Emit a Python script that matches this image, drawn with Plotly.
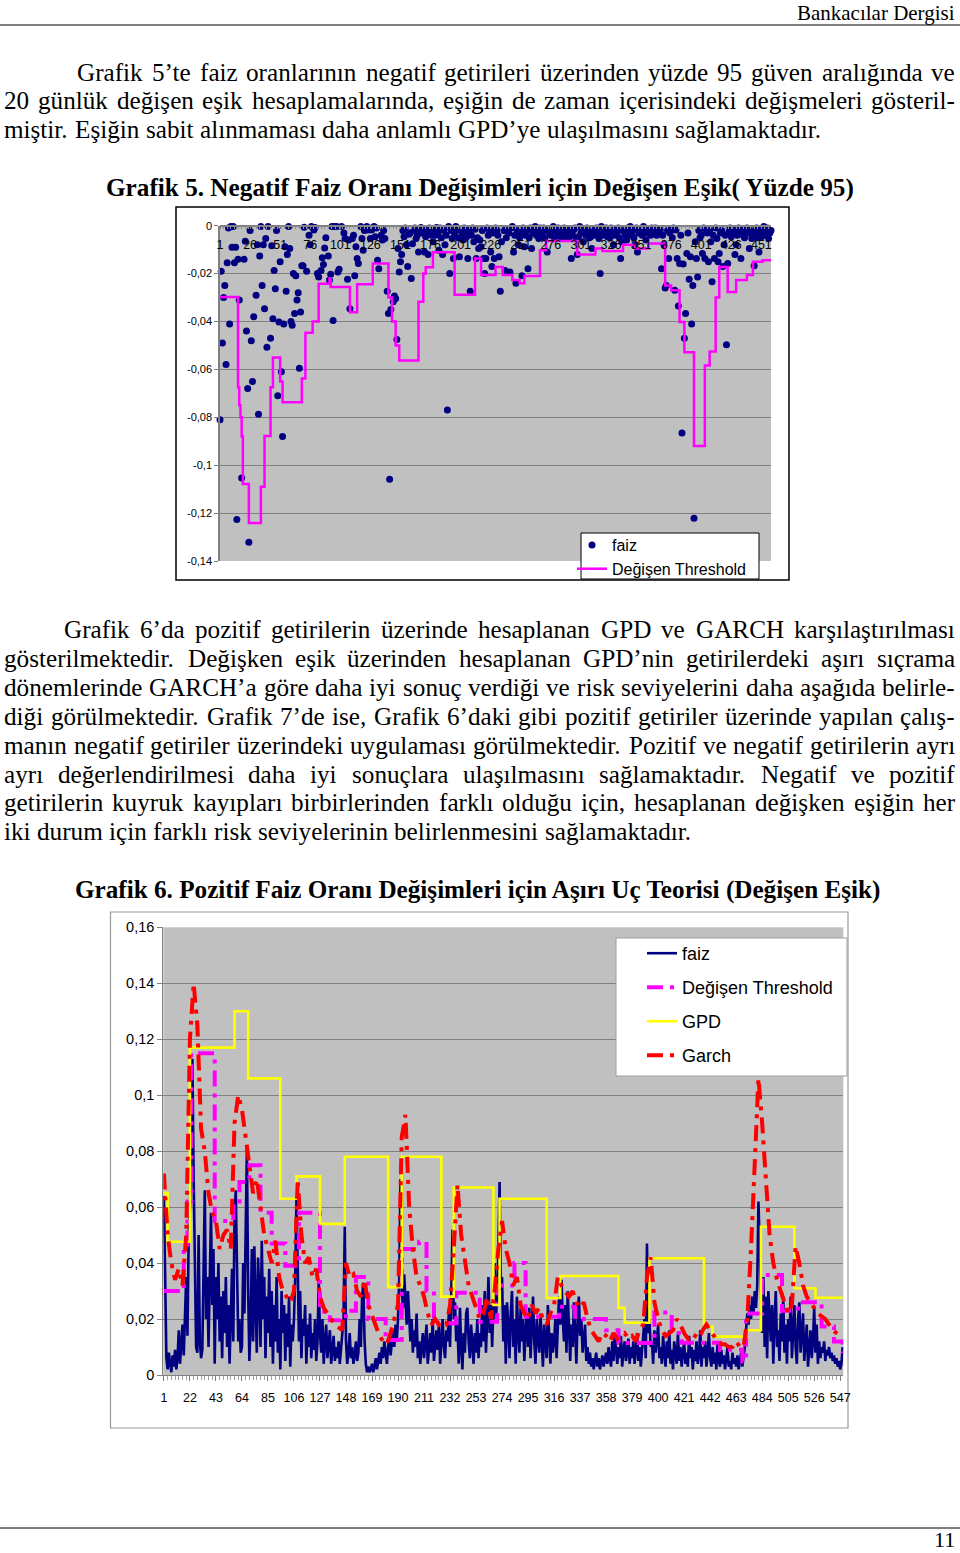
import plotly.graph_objects as go

W, H = 960, 1553
_ = None

# ---------------- Chart 1 data (Grafik 5) ----------------
faiz_neg = [
    -0.081, -0.019, -0.049, -0.030, -0.025, -0.058, -0.0155, -0.001, -0.041, -0.0003,
    -0.009, -0.0003, -0.0155, -0.009, -0.1227, -0.014, -0.031, _, -0.1053, _,
    -0.014, -0.0065, -0.044, -0.068, -0.1322, -0.002, -0.048, -0.065, -0.038, _,
    -0.029, -0.008, -0.0787, -0.0127, -0.0003, -0.025, -0.008, -0.0347, -0.0053, -0.0507,
    -0.0003, _, -0.047, -0.0084, -0.0388, -0.0187, -0.0263, -0.002, -0.071, -0.0402,
    -0.015, -0.061, -0.088, -0.041, -0.0088, -0.0274, -0.012, -0.0003, -0.0095, -0.040,
    -0.0416, -0.020, -0.0367, -0.0209, -0.031, -0.028, -0.0595, -0.036, -0.0167, -0.0167,
    -0.0006, _, -0.019, _, -0.004, -0.008, -0.0003, _, -0.0018, -0.0008,
    _, -0.020, -0.0214, _, -0.0187, -0.0134, -0.0162, -0.0093, -0.005, _,
    -0.0126, -0.0227, -0.0203, -0.0003, -0.0396, -0.0003, _, -0.0003, -0.0193, -0.0182,
    _, -0.0003, _, -0.003, -0.0053, _, -0.0224, -0.006, -0.0347, _,
    -0.0053, -0.004, -0.0209, -0.0088, -0.0137, -0.0158, _, -0.0003, -0.0053, -0.0102,
    -0.002, _, -0.0003, -0.0018, -0.001, -0.0053, -0.0018, _, -0.0003, -0.0046,
    -0.001, -0.0144, -0.018, _, -0.004, -0.006, -0.002, -0.0053, _, -0.0274,
    -0.0367, -0.1059, -0.035, _, -0.0318, -0.0294, -0.0304, -0.0475, -0.0095, -0.0193,
    -0.015, -0.012, -0.002, -0.0046, -0.001, -0.008, -0.017, -0.0036, -0.003, -0.022,
    -0.0075, -0.002, -0.001, -0.0053, -0.004, -0.011, -0.0018, -0.0008, -0.003, -0.0015,
    -0.011, -0.0046, -0.003, -0.012, -0.001, -0.0025, -0.004, -0.0067, -0.002, -0.004,
    -0.0008, -0.003, -0.0102, -0.001, -0.005, -0.012, -0.002, -0.008, -0.004, -0.077,
    -0.0003, -0.020, -0.002, -0.0053, -0.0137, -0.003, -0.0003, -0.001, -0.005, -0.013,
    -0.002, -0.0046, -0.006, -0.001, -0.003, -0.0046, -0.0137, -0.002, -0.0274, -0.004,
    -0.001, -0.0067, -0.0015, -0.0137, -0.005, -0.0095, -0.006, -0.0088, -0.002, -0.0137,
    -0.020, -0.0137, -0.001, -0.004, -0.002, -0.011, -0.017, -0.003, -0.0137, -0.001,
    -0.0018, -0.004, -0.013, -0.0274, -0.0067, _, -0.002, -0.0187, -0.005, -0.0018,
    -0.003, -0.0193, -0.001, -0.0003, -0.011, -0.004, -0.024, -0.002, -0.008, -0.005,
    -0.003, -0.0209, -0.001, -0.0088, -0.004, -0.002, -0.018, -0.005, -0.001, -0.0095,
    -0.003, -0.0015, -0.0003, -0.004, -0.002, -0.0053, -0.001, -0.004, -0.003, -0.001,
    -0.005, -0.002, -0.011, -0.0018, -0.003, -0.004, -0.001, -0.0003, -0.005, -0.002,
    -0.0025, -0.001, -0.004, -0.0046, -0.002, -0.005, -0.001, -0.003, -0.0015, -0.003,
    -0.0053, -0.002, -0.0137, -0.004, -0.0018, -0.001, -0.005, -0.012, -0.0046, -0.0003,
    -0.003, -0.0015, -0.0067, -0.002, -0.004, -0.001, -0.003, -0.005, -0.0046, -0.0095,
    -0.002, -0.004, -0.0018, -0.001, -0.003, -0.0053, -0.020, -0.0003, -0.004, -0.002,
    -0.0025, -0.001, -0.0046, -0.003, -0.005, -0.001, -0.002, -0.008, -0.004, -0.0015,
    -0.003, -0.001, -0.005, -0.0137, -0.0067, -0.002, -0.0025, -0.004, -0.006, -0.001,
    -0.003, -0.0003, -0.004, -0.002, -0.005, -0.008, -0.001, -0.011, -0.003, -0.003,
    -0.002, -0.004, -0.0003, -0.001, -0.006, -0.003, -0.0018, -0.002, -0.004, -0.001,
    -0.003, -0.0025, -0.001, -0.004, -0.002, -0.003, -0.0018, -0.018, -0.004, -0.008,
    -0.026, -0.025, -0.002, -0.0137, -0.003, -0.0018, -0.005, -0.001, -0.027, -0.0018,
    -0.0137, -0.0335, -0.0158, -0.004, -0.0866, -0.016, -0.047, -0.0367, -0.0116, -0.003,
    -0.0224, -0.013, -0.041, -0.025, -0.1222, -0.0067, -0.0137, -0.0214, -0.002, -0.005,
    -0.004, -0.0116, -0.001, -0.0137, -0.0025, -0.003, -0.015, -0.002, -0.0067, -0.0234,
    -0.004, -0.0137, -0.001, -0.0053, -0.015, -0.0116, -0.003, -0.002, -0.017, -0.008,
    -0.004, -0.0497, -0.0158, -0.0025, -0.001, -0.0046, -0.003, -0.002, -0.012, -0.008,
    -0.004, -0.001, -0.003, -0.0137, -0.002, -0.004, -0.005, -0.0018, -0.001, -0.003,
    -0.0095, -0.002, -0.0053, -0.004, -0.0167, -0.003, -0.001, -0.005, -0.011, -0.002,
    -0.0046, -0.003, -0.0003, -0.004, -0.0025, -0.001, -0.0053, -0.003, -0.002,
]
days1 = list(range(1, len(faiz_neg) + 1))

thr1_day = [1, 16, 17, 18, 19, 20, 25, 35, 38, 43,
            45, 51, 53, 69, 72, 78, 83, 92, 93, 109,
            115, 128, 141, 144, 147, 150, 166, 170, 172, 178,
            196, 213, 218, 230, 236, 244, 250, 254, 267, 272,
            298, 313, 319, 336, 346, 357, 371, 376, 383, 387,
            395, 404, 408, 413, 416, 423, 430, 439, 444, 452, 459]
thr1_val = [-0.0298, -0.0675, -0.075, -0.080, -0.088, -0.1078, -0.1241, -0.109, -0.0878, -0.0675,
            -0.055, -0.065, -0.0737, -0.0638, -0.0447, -0.040, -0.0242, -0.022, -0.0256, -0.0361,
            -0.0244, -0.0158, -0.030, -0.040, -0.050, -0.0563, -0.0318, -0.020, -0.0173, -0.0111,
            -0.0288, -0.0137, -0.0206, -0.0172, -0.0206, -0.0227, -0.024, -0.021, -0.0102, -0.0064,
            -0.012, -0.0095, -0.0106, -0.008, -0.0095, -0.0074, -0.025, -0.027, -0.0402, -0.0528,
            -0.092, -0.0584, -0.0525, -0.030, -0.0172, -0.0277, -0.0227, -0.0206, -0.0151, -0.0144, -0.0144]

c1_xticks = list(range(1, 452, 25))
c1_yticks = [0, -0.02, -0.04, -0.06, -0.08, -0.1, -0.12, -0.14]
c1_yticktext = ["0", "-0,02", "-0,04", "-0,06", "-0,08", "-0,1", "-0,12", "-0,14"]

# ---------------- Chart 2 data (Grafik 6) ----------------
faiz_pos = [
    0.064, 0.028, 0.006, 0.002, 0.008, 0.004, 0.001, 0.007, 0.003, 0.009, 0.002, 0.006, 0.016, 0.004, 0.012, 0.018, 0.007, 0.022, 0.035, 0.014, 0.05,
    0.06, 0.095, 0.113, 0.07, 0.03, 0.01, 0.008, 0.05, 0.012, 0.006, 0.009, 0.04, 0.066, 0.02, 0.035, 0.01, 0.04, 0.058, 0.025, 0.045, 0.004,
    0.035, 0.02, 0.04, 0.012, 0.028, 0.006, 0.03, 0.015, 0.035, 0.01, 0.025, 0.004, 0.02, 0.038, 0.012, 0.058, 0.066, 0.03, 0.012, 0.02, 0.008,
    0.01, 0.04, 0.022, 0.062, 0.081, 0.03, 0.005, 0.018, 0.045, 0.012, 0.046, 0.025, 0.008, 0.042, 0.03, 0.01, 0.048, 0.02, 0.035, 0.006, 0.028,
    0.015, 0.038, 0.01, 0.03, 0.004, 0.025, 0.012, 0.035, 0.008, 0.02, 0.002, 0.03, 0.015, 0.025, 0.005, 0.022, 0.01, 0.028, 0.003, 0.018, 0.012,
    0.02, 0.035, 0.063, 0.04, 0.012, 0.03, 0.006, 0.02, 0.014, 0.025, 0.004, 0.018, 0.01, 0.022, 0.006, 0.015, 0.009, 0.02, 0.005, 0.012, 0.034,
    0.015, 0.008, 0.02, 0.004, 0.012, 0.018, 0.006, 0.01, 0.016, 0.004, 0.008, 0.014, 0.005, 0.01, 0.006, 0.012, 0.004, 0.009, 0.015, 0.02, 0.053,
    0.012, 0.004, 0.008, 0.015, 0.006, 0.01, 0.004, 0.007, 0.012, 0.005, 0.008, 0.02, 0.01, 0.028, 0.033, 0.012, 0.004, 0.001, 0.003, 0.001, 0.002,
    0.004, 0.001, 0.003, 0.006, 0.002, 0.005, 0.008, 0.004, 0.01, 0.006, 0.012, 0.008, 0.004, 0.01, 0.014, 0.007, 0.012, 0.016, 0.01, 0.018, 0.012,
    0.02, 0.035, 0.07, 0.03, 0.024, 0.036, 0.028, 0.018, 0.03, 0.022, 0.012, 0.02, 0.008, 0.016, 0.01, 0.022, 0.006, 0.012, 0.004, 0.01, 0.015,
    0.006, 0.012, 0.018, 0.004, 0.01, 0.015, 0.008, 0.02, 0.005, 0.012, 0.016, 0.009, 0.018, 0.004, 0.014, 0.02, 0.01, 0.006, 0.016, 0.012, 0.022,
    0.01, 0.03, 0.052, 0.02, 0.026, 0.012, 0.018, 0.004, 0.024, 0.01, 0.002, 0.015, 0.008, 0.022, 0.024, 0.012, 0.006, 0.018, 0.01, 0.004, 0.015,
    0.008, 0.02, 0.006, 0.015, 0.01, 0.025, 0.012, 0.03, 0.008, 0.02, 0.035, 0.015, 0.025, 0.01, 0.03, 0.04, 0.02, 0.028, 0.045, 0.069, 0.03,
    0.035, 0.012, 0.025, 0.004, 0.026, 0.018, 0.006, 0.022, 0.03, 0.01, 0.02, 0.004, 0.028, 0.015, 0.008, 0.024, 0.012, 0.02, 0.005, 0.016, 0.022,
    0.01, 0.024, 0.006, 0.018, 0.028, 0.012, 0.004, 0.02, 0.015, 0.008, 0.022, 0.01, 0.003, 0.018, 0.012, 0.006, 0.025, 0.01, 0.004, 0.015, 0.008,
    0.012, 0.02, 0.006, 0.015, 0.028, 0.018, 0.034, 0.02, 0.012, 0.025, 0.008, 0.03, 0.015, 0.005, 0.018, 0.01, 0.026, 0.012, 0.004, 0.02, 0.028,
    0.014, 0.02, 0.008, 0.012, 0.018, 0.005, 0.01, 0.004, 0.008, 0.003, 0.006, 0.002, 0.005, 0.008, 0.003, 0.006, 0.002, 0.004, 0.007, 0.003, 0.005,
    0.008, 0.004, 0.01, 0.006, 0.003, 0.012, 0.005, 0.015, 0.008, 0.004, 0.01, 0.006, 0.014, 0.003, 0.009, 0.012, 0.005, 0.008, 0.013, 0.004, 0.01,
    0.006, 0.012, 0.004, 0.009, 0.015, 0.005, 0.01, 0.003, 0.008, 0.012, 0.02, 0.006, 0.047, 0.015, 0.02, 0.01, 0.012, 0.004, 0.016, 0.008, 0.012,
    0.018, 0.006, 0.01, 0.004, 0.014, 0.008, 0.003, 0.012, 0.006, 0.016, 0.004, 0.009, 0.002, 0.012, 0.007, 0.004, 0.015, 0.005, 0.01, 0.003, 0.008,
    0.012, 0.004, 0.008, 0.003, 0.014, 0.006, 0.01, 0.002, 0.009, 0.005, 0.012, 0.004, 0.007, 0.016, 0.003, 0.01, 0.006, 0.012, 0.003, 0.008, 0.015,
    0.006, 0.003, 0.01, 0.004, 0.008, 0.002, 0.012, 0.005, 0.003, 0.009, 0.004, 0.007, 0.002, 0.006, 0.01, 0.003, 0.005, 0.002, 0.008, 0.004, 0.006,
    0.003, 0.007, 0.002, 0.005, 0.008, 0.003, 0.006, 0.01, 0.016, 0.022, 0.018, 0.025, 0.02, 0.028, 0.022, 0.03, 0.024, 0.032, 0.062, 0.045, 0.03,
    0.015, 0.035, 0.01, 0.028, 0.006, 0.03, 0.018, 0.012, 0.025, 0.004, 0.02, 0.03, 0.01, 0.016, 0.005, 0.022, 0.012, 0.028, 0.008, 0.018, 0.004,
    0.02, 0.012, 0.028, 0.006, 0.018, 0.025, 0.01, 0.004, 0.02, 0.026, 0.008, 0.015, 0.022, 0.005, 0.012, 0.018, 0.003, 0.01, 0.016, 0.006, 0.012,
    0.024, 0.008, 0.018, 0.004, 0.012, 0.006, 0.01, 0.008, 0.012, 0.005, 0.009, 0.007, 0.01, 0.006, 0.008, 0.005, 0.007, 0.004, 0.006, 0.003, 0.005, 0.002, 0.004, 0.01,
]
days2 = list(range(1, len(faiz_pos) + 1))

garch_day = list(range(1, 548, 3))
garch_val = [
    0.072, 0.05, 0.04, 0.034, 0.038, 0.032, 0.05,
    0.12, 0.14, 0.125, 0.088, 0.08, 0.065, 0.058,
    0.055, 0.045, 0.05, 0.052, 0.045, 0.09, 0.1,
    0.095, 0.085, 0.075, 0.065, 0.07, 0.06, 0.05,
    0.045, 0.04, 0.048, 0.035, 0.03, 0.028, 0.026,
    0.03, 0.07, 0.05, 0.04, 0.042, 0.035, 0.038,
    0.028, 0.024, 0.022, 0.02, 0.018, 0.017, 0.016,
    0.04, 0.035, 0.036, 0.03, 0.028, 0.034, 0.025,
    0.021, 0.018, 0.014, 0.012, 0.011, 0.015, 0.02,
    0.025, 0.085, 0.093, 0.06, 0.045, 0.035, 0.032,
    0.028, 0.022, 0.018, 0.02, 0.018, 0.019, 0.018,
    0.025, 0.045, 0.068, 0.05, 0.04, 0.032, 0.028,
    0.024, 0.02, 0.022, 0.028, 0.02, 0.03, 0.045,
    0.055, 0.045, 0.04, 0.032, 0.035, 0.025, 0.022,
    0.02, 0.025, 0.022, 0.024, 0.02, 0.018, 0.022,
    0.025, 0.035, 0.032, 0.03, 0.028, 0.03, 0.026,
    0.024, 0.026, 0.02, 0.016, 0.014, 0.012, 0.015,
    0.014, 0.012, 0.015, 0.013, 0.014, 0.015, 0.013,
    0.014, 0.012, 0.016, 0.018, 0.035, 0.042, 0.026,
    0.02, 0.016, 0.014, 0.015, 0.016, 0.02, 0.018,
    0.015, 0.013, 0.012, 0.014, 0.013, 0.016, 0.018,
    0.016, 0.014, 0.012, 0.011, 0.011, 0.01, 0.01,
    0.012, 0.01, 0.01, 0.02, 0.045, 0.08, 0.106,
    0.09, 0.07, 0.05, 0.04, 0.034, 0.03, 0.026,
    0.022, 0.025, 0.046, 0.04, 0.032, 0.028, 0.026,
    0.024, 0.022, 0.021, 0.02, 0.018, 0.016, 0.015, 0.014,
]

thr2_day = [1, 17, 20, 23, 42, 57, 62, 70, 79, 88,
            99, 110, 127, 135, 148, 156, 166, 180, 193, 207,
            213, 219, 237, 256, 270, 284, 293, 320, 333, 347,
            358, 368, 397, 411, 419, 437, 450, 468, 471, 484,
            500, 513, 532, 542, 549]
thr2_val = [0.030, 0.045, 0.062, 0.115, 0.055, 0.062, 0.069, 0.075, 0.058, 0.047,
            0.039, 0.058, 0.0226, 0.0196, 0.023, 0.035, 0.02, 0.0125, 0.045, 0.0476,
            0.03, 0.0185, 0.0294, 0.019, 0.032, 0.04, 0.0208, 0.0244, 0.02, 0.02,
            0.016, 0.0114, 0.0223, 0.015, 0.0115, 0.0115, 0.009, 0.0048, 0.022, 0.0357,
            0.023, 0.026, 0.0173, 0.012, 0.0078]

gpd_day = [1, 4, 22, 58, 69, 95, 108, 127, 147, 182, 193, 225, 235, 267,
           272, 310, 321, 368, 373, 393, 437, 444, 471, 483, 510, 527, 549]
gpd_val = [0.065, 0.0476, 0.117, 0.130, 0.106, 0.063, 0.071, 0.054, 0.078, 0.0314, 0.078, 0.028, 0.067, 0.025,
           0.063, 0.0275, 0.0354, 0.024, 0.0187, 0.0417, 0.0173, 0.0137, 0.016, 0.053, 0.031, 0.0276, 0.0276]

c2_xticks = list(range(1, 548, 21))
c2_yticks = [0, 0.02, 0.04, 0.06, 0.08, 0.1, 0.12, 0.14, 0.16]
c2_yticktext = ["0", "0,02", "0,04", "0,06", "0,08", "0,1", "0,12", "0,14", "0,16"]

# ---------------- text ----------------
header_text = "Bankacılar Dergisi"
page_no = "11"
para1 = [
    "Grafik 5\u2019te faiz oranlarının negatif getirileri üzerinden yüzde 95 güven aralığında ve",
    "20 günlük değişen eşik hesaplamalarında, eşiğin de zaman içerisindeki değişmeleri gösteril-",
    "miştir. Eşiğin sabit alınmaması daha anlamlı GPD\u2019ye ulaşılmasını sağlamaktadır.",
]
title1 = "Grafik 5. Negatif Faiz Oranı Değişimleri için Değişen Eşik( Yüzde 95)"
para2 = [
    "Grafik 6\u2019da pozitif getirilerin üzerinde hesaplanan GPD ve GARCH karşılaştırılması",
    "gösterilmektedir. Değişken eşik üzerinden hesaplanan GPD\u2019nin getirilerdeki aşırı sıçrama",
    "dönemlerinde GARCH\u2019a göre daha iyi sonuç verdiği ve risk seviyelerini daha aşağıda belirle-",
    "diği görülmektedir. Grafik 7\u2019de ise, Grafik 6\u2019daki gibi pozitif getiriler üzerinde yapılan çalış-",
    "manın negatif getiriler üzerindeki uygulaması görülmektedir. Pozitif ve negatif getirilerin ayrı",
    "ayrı değerlendirilmesi daha iyi sonuçlara ulaşılmasını sağlamaktadır. Negatif ve pozitif",
    "getirilerin kuyruk kayıpları birbirlerinden farklı olduğu için, hesaplanan değişken eşiğin her",
    "iki durum için farklı risk seviyelerinin belirlenmesini sağlamaktadır.",
]
title2 = "Grafik 6. Pozitif Faiz Oranı Değişimleri için Aşırı Uç Teorisi (Değişen Eşik)"

# ---------------- helpers ----------------
def px(x):
    return x / W

def py(y):
    return 1 - y / H

REG = {' ': 250, 'a': 444, 'b': 500, 'c': 444, 'd': 500, 'e': 444, 'f': 333, 'g': 500, 'h': 500, 'i': 278,
       'j': 278, 'k': 500, 'l': 278, 'm': 778, 'n': 500, 'o': 500, 'p': 500, 'q': 500, 'r': 333, 's': 389,
       't': 278, 'u': 500, 'v': 500, 'w': 722, 'x': 500, 'y': 500, 'z': 444,
       'A': 722, 'B': 667, 'C': 667, 'D': 722, 'E': 611, 'F': 556, 'G': 722, 'H': 722, 'I': 333, 'J': 389,
       'K': 722, 'L': 611, 'M': 889, 'N': 722, 'O': 722, 'P': 556, 'Q': 722, 'R': 667, 'S': 556, 'T': 611,
       'U': 722, 'V': 722, 'W': 944, 'X': 722, 'Y': 722, 'Z': 611,
       '.': 250, ',': 250, '-': 333, '\u2019': 333, '(': 333, ')': 333,
       'ı': 278, 'ş': 389, 'ğ': 500, 'ü': 500, 'ö': 500, 'ç': 444, 'Ş': 556, 'Ç': 667, 'Ö': 722, 'Ü': 722, 'İ': 333}
BOLD = {' ': 250, 'a': 500, 'b': 556, 'c': 444, 'd': 556, 'e': 444, 'f': 333, 'g': 500, 'h': 556, 'i': 278,
        'j': 333, 'k': 556, 'l': 278, 'm': 833, 'n': 556, 'o': 500, 'p': 556, 'q': 556, 'r': 444, 's': 389,
        't': 333, 'u': 556, 'v': 500, 'w': 722, 'x': 500, 'y': 500, 'z': 444,
        'A': 722, 'B': 667, 'C': 722, 'D': 722, 'E': 667, 'F': 611, 'G': 778, 'H': 778, 'I': 389, 'K': 778,
        'L': 667, 'M': 944, 'N': 722, 'O': 778, 'P': 611, 'R': 722, 'S': 556, 'T': 667, 'U': 722, 'Y': 722,
        '.': 250, ',': 250, '(': 333, ')': 333,
        'ı': 278, 'ş': 389, 'ğ': 500, 'ü': 556, 'ö': 500, 'ç': 444, 'Ş': 556, 'Ç': 722, 'Ö': 778, 'Ü': 722, 'İ': 389}

def tw(s, table):
    return sum(table.get(c, 500) for c in s) / 1000.0

SERIF = "Liberation Serif, Times New Roman, serif"
SANS = "Liberation Sans, Arial, sans-serif"

body_size = (688 / tw(para2[-1], REG) + 819 / tw(para1[-1], REG)) / 2

ann = []

def line_words(text, x0, x1, yc, justify):
    words = text.split(' ')
    ws = [tw(w, REG) * body_size for w in words]
    gap = (x1 - x0 - sum(ws)) / (len(words) - 1) if justify else 0.25 * body_size
    x = x0
    for w, wd in zip(words, ws):
        ann.append(dict(x=px(x), y=py(yc), xref='paper', yref='paper', text=w, showarrow=False,
                        xanchor='left', yanchor='middle', borderpad=0, borderwidth=0,
                        font=dict(family=SERIF, size=body_size, color='black')))
        x += wd + gap

p1_y = [72, 100, 129]
line_words(para1[0], 77, 955, p1_y[0], True)
line_words(para1[1], 4, 955, p1_y[1], True)
line_words(para1[2], 4, 955, p1_y[2], False)

p2_y = [629, 658, 687, 716, 745, 774, 803, 832]
for k, t in enumerate(para2):
    x0 = 64 if k == 0 else 4
    line_words(t, x0, 955, p2_y[k], k < len(para2) - 1)

def bold_title(text, x0, x1, yc):
    size = (x1 - x0) / tw(text, BOLD)
    ann.append(dict(x=px(x0), y=py(yc), xref='paper', yref='paper', text='<b>' + text + '</b>',
                    showarrow=False, xanchor='left', yanchor='middle', borderpad=0, borderwidth=0,
                    font=dict(family=SERIF, size=size, color='black')))

bold_title(title1, 106, 855, 188)
bold_title(title2, 75, 885, 890)

hsize = 158 / tw(header_text, REG)
ann.append(dict(x=px(955), y=py(1), xref='paper', yref='paper', text=header_text, showarrow=False,
                xanchor='right', yanchor='top', borderpad=0, borderwidth=0,
                font=dict(family=SERIF, size=hsize, color='black')))
ann.append(dict(x=px(955), y=py(1552), xref='paper', yref='paper', text=page_no, showarrow=False,
                xanchor='right', yanchor='bottom', borderpad=0, borderwidth=0,
                font=dict(family=SERIF, size=22, color='black')))

# ---------------- figure ----------------
fig = go.Figure()

# Chart 1
fig.add_trace(go.Scatter(x=days1, y=faiz_neg, mode='markers', name='faiz',
                         marker=dict(color='#000080', size=7), cliponaxis=False,
                         xaxis='x', yaxis='y', legend='legend', legendgroup='g1'))
fig.add_trace(go.Scatter(x=thr1_day, y=thr1_val, mode='lines', name='Değişen Threshold',
                         line=dict(color='#FF00FF', width=2.5, shape='hv'),
                         xaxis='x', yaxis='y', legend='legend', legendgroup='g2'))

# Chart 2
dash = '16px,7px,4px,7px'
fig.add_trace(go.Scatter(x=days2, y=faiz_pos, mode='lines', name='faiz',
                         line=dict(color='#000080', width=2.6),
                         xaxis='x2', yaxis='y2', legend='legend2', legendgroup='h1'))
fig.add_trace(go.Scatter(x=thr2_day, y=thr2_val, mode='lines', name='Değişen Threshold',
                         line=dict(color='#FF00FF', width=4, shape='hv', dash=dash),
                         xaxis='x2', yaxis='y2', legend='legend2', legendgroup='h2'))
fig.add_trace(go.Scatter(x=gpd_day, y=gpd_val, mode='lines', name='GPD',
                         line=dict(color='#FFFF00', width=2.6, shape='hv'),
                         xaxis='x2', yaxis='y2', legend='legend2', legendgroup='h3'))
fig.add_trace(go.Scatter(x=garch_day, y=garch_val, mode='lines', name='Garch',
                         line=dict(color='#FF0000', width=4, dash=dash),
                         xaxis='x2', yaxis='y2', legend='legend2', legendgroup='h4'))

shapes = [
    dict(type='line', xref='paper', yref='paper', x0=0, x1=1, y0=py(25), y1=py(25),
         line=dict(color='black', width=1)),
    dict(type='line', xref='paper', yref='paper', x0=0, x1=1, y0=py(1528), y1=py(1528),
         line=dict(color='black', width=1)),
    dict(type='rect', xref='paper', yref='paper', x0=px(176), x1=px(789), y0=py(580), y1=py(207),
         line=dict(color='black', width=1.5), layer='below'),
    dict(type='rect', xref='paper', yref='paper', x0=px(110.5), x1=px(848), y0=py(1428), y1=py(912),
         line=dict(color='#9A9A9A', width=1.2), layer='below'),
    dict(type='rect', xref='paper', yref='paper', x0=px(581), x1=px(759), y0=py(579), y1=py(533),
         fillcolor='white', line=dict(color='black', width=1), layer='above'),
    dict(type='rect', xref='paper', yref='paper', x0=px(616), x1=px(847), y0=py(1076), y1=py(938),
         fillcolor='white', line=dict(color='#A0A0A0', width=1), layer='above'),
]

fig.update_layout(
    width=W, height=H, margin=dict(l=0, r=0, t=0, b=0, pad=0, autoexpand=False), autosize=False,
    paper_bgcolor='white', plot_bgcolor='#C0C0C0',
    showlegend=True,
    annotations=ann, shapes=shapes,
    xaxis=dict(domain=[px(220), px(771)], range=[1, 459], anchor='free', position=py(225.7),
               automargin=False,
               tickvals=c1_xticks, ticktext=[str(v) for v in c1_xticks], tickangle=0,
               showgrid=False, zeroline=False, showline=True, linecolor='#808080', linewidth=1.5,
               ticks='outside', ticklen=3, tickcolor='#808080',
               minor=dict(dtick=3, tick0=1, ticks='outside', ticklen=3, tickcolor='#909090', showgrid=False),
               tickfont=dict(family=SANS, size=12.5, color='black'), ticklabelstandoff=5),
    yaxis=dict(domain=[py(561), py(225.7)], range=[-0.14, 0], anchor='x', automargin=False,
               tickvals=c1_yticks, ticktext=c1_yticktext,
               showgrid=True, gridcolor='#808080', gridwidth=1, zeroline=False,
               showline=True, linecolor='#808080', linewidth=1.5,
               ticks='outside', ticklen=4, tickcolor='#808080',
               tickfont=dict(family=SANS, size=11, color='black')),
    xaxis2=dict(domain=[px(163.3), px(843.3)], range=[0.5, 549.5], anchor='y2', automargin=False,
                tickvals=c2_xticks, ticktext=[str(v) for v in c2_xticks], tickangle=0,
                showgrid=False, zeroline=False, showline=True, linecolor='#808080', linewidth=1.2,
                ticks='outside', ticklen=5, tickcolor='#808080',
                minor=dict(dtick=3, tick0=1, ticks='outside', ticklen=4, tickcolor='#A0A0A0', showgrid=False),
                tickfont=dict(family=SANS, size=12.5, color='black'), ticklabelstandoff=6),
    yaxis2=dict(domain=[py(1375), py(927.3)], range=[0, 0.16], anchor='x2', automargin=False,
                tickvals=c2_yticks, ticktext=c2_yticktext,
                showgrid=True, gridcolor='#808080', gridwidth=1, zeroline=False,
                showline=True, linecolor='#808080', linewidth=1.2,
                ticks='outside', ticklen=5, tickcolor='#808080',
                tickfont=dict(family=SANS, size=14.5, color='black')),
    legend=dict(x=px(572), y=py(528), xanchor='left', yanchor='top', bgcolor='rgba(0,0,0,0)',
                borderwidth=0, font=dict(family=SANS, size=16, color='black'),
                tracegroupgap=0, itemwidth=30),
    legend2=dict(x=px(642), y=py(935), xanchor='left', yanchor='top', bgcolor='rgba(0,0,0,0)',
                 borderwidth=0, font=dict(family=SANS, size=18, color='black'),
                 tracegroupgap=7.6, itemwidth=30),
)

page_css = (
    "var r=document.documentElement.style;r.margin='0';r.padding='0';r.overflow='hidden';"
    "var b=document.body.style;b.margin='0';b.padding='0';b.overflow='hidden';"
)
fig.write_html("out.html", post_script=page_css)
